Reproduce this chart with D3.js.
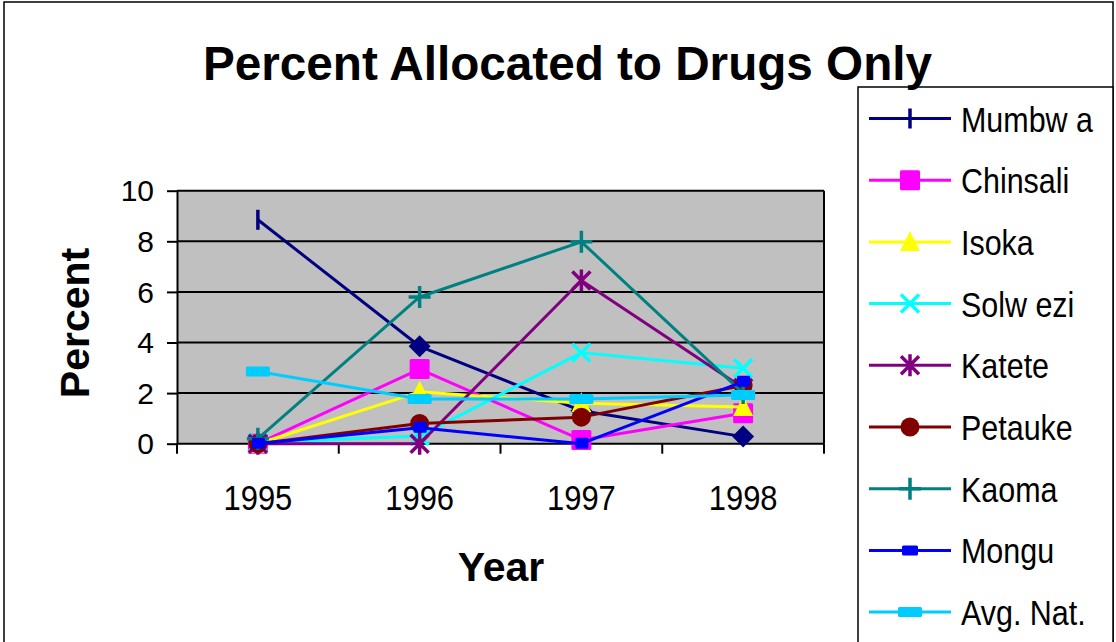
<!DOCTYPE html>
<html>
<head>
<meta charset="utf-8">
<script src="https://cdn.jsdelivr.net/npm/d3@7"></script>
<style>
  html, body { margin: 0; padding: 0; background: #ffffff; }
  svg { display: block; }
  text { font-family: "Liberation Sans", Arial, sans-serif; }
</style>
</head>
<body>
<svg id="chart" width="1116" height="642"></svg>
<script>
// ---- data ----
const years = ["1995", "1996", "1997", "1998"];
const yTicks = [0, 2, 4, 6, 8, 10];
const seriesNames = ["Mumbw a", "Chinsali", "Isoka", "Solw ezi", "Katete", "Petauke", "Kaoma", "Mongu", "Avg. Nat."];
const mumbwa   = [8.85, 3.85, 1.3, 0.28];
const chinsali = [0.0, 2.95, 0.15, 1.2];
const isoka    = [0.0, 2.05, 1.6, 1.45];
const solwezi  = [0.05, 0.3, 3.6, 2.98];
const katete   = [0.0, 0.0, 6.45, 2.2];
const petauke  = [0.0, 0.8, 1.05, 2.3];
const kaoma    = [0.2, 5.8, 7.98, 2.0];
const mongu    = [0.0, 0.63, 0.0, 2.45];
const avgNat   = [2.85, 1.77, 1.77, 1.92];
const seriesValues = [mumbwa, chinsali, isoka, solwezi, katete, petauke, kaoma, mongu, avgNat];

// ---- styles ----
const colors  = ["#000080", "#FF00FF", "#FFFF00", "#00FFFF", "#800080", "#800000", "#008080", "#0000FF", "#00CCFF"];
const markers = ["bar", "square", "triangle", "x", "asterisk", "circle", "plus", "smallsquare", "rect"];
const mumbwaPointMarkers = ["bar", "diamond", "diamond", "diamond"];

const svg = d3.select("#chart");

// outer frame
svg.append("rect").attr("x", 4).attr("y", 2).attr("width", 1109).attr("height", 700)
  .attr("fill", "#fff").attr("stroke", "#000").attr("stroke-width", 1.5);

// plot area
const pLeft = 177, pRight = 824, pTop = 190.7, pBottom = 443.7;
const x = d3.scaleBand().domain(years).range([pLeft, pRight]).paddingInner(0).paddingOuter(0);
const xc = d => x(d) + x.bandwidth() / 2;
const y = d3.scaleLinear().domain([0, 10]).range([pBottom, pTop]);

svg.append("rect").attr("x", pLeft).attr("y", pTop).attr("width", pRight - pLeft).attr("height", pBottom - pTop)
  .attr("fill", "#C0C0C0");

// gridlines
svg.append("g").selectAll("line").data(yTicks.filter(t => t > 0)).join("line")
  .attr("x1", pLeft).attr("x2", pRight).attr("y1", d => y(d)).attr("y2", d => y(d))
  .attr("stroke", "#000").attr("stroke-width", 2);
svg.append("line").attr("x1", pRight).attr("x2", pRight).attr("y1", pTop).attr("y2", pBottom)
  .attr("stroke", "#000").attr("stroke-width", 2);

// y axis
const yAxis = d3.axisLeft(y).tickValues(yTicks).tickSize(10).tickPadding(13).tickSizeOuter(0);
const gy = svg.append("g").attr("transform", `translate(${pLeft},0)`).call(yAxis);
gy.select(".domain").attr("stroke", "#000").attr("stroke-width", 2);
gy.selectAll(".tick line").attr("stroke", "#000").attr("stroke-width", 2);
gy.selectAll(".tick text").attr("fill", "#000").style("font-size", "30px")
  .style("font-family", "'Liberation Sans', Arial, sans-serif").attr("dy", "0.34em");

// x axis
const gx = svg.append("g").attr("transform", `translate(0,${pBottom})`);
gx.append("line").attr("x1", pLeft).attr("x2", pRight).attr("y1", 0).attr("y2", 0)
  .attr("stroke", "#000").attr("stroke-width", 2);
const bounds = years.map(d => x(d)).concat([pRight]);
gx.selectAll("line.b").data(bounds).join("line").attr("class", "b")
  .attr("x1", d => d).attr("x2", d => d).attr("y1", 0).attr("y2", 10)
  .attr("stroke", "#000").attr("stroke-width", 2);
gx.selectAll("text").data(years).join("text")
  .attr("transform", d => `translate(${xc(d)},66) scale(0.86,1)`)
  .attr("text-anchor", "middle").style("font-size", "36px").attr("fill", "#000").text(d => d);

function drawMarker(g, type, color, cx, cy, legend) {
  const s = 10;
  switch (type) {
    case "bar":
      g.append("line").attr("x1", cx).attr("x2", cx).attr("y1", cy - s).attr("y2", cy + s)
        .attr("stroke", color).attr("stroke-width", 3.5);
      break;
    case "diamond":
      g.append("path").attr("d", `M${cx},${cy - 11}L${cx + 11},${cy}L${cx},${cy + 11}L${cx - 11},${cy}Z`)
        .attr("fill", color);
      break;
    case "square":
      g.append("rect").attr("x", cx - 10).attr("y", cy - 10).attr("width", 20).attr("height", 20)
        .attr("rx", 1.5).attr("fill", color);
      break;
    case "triangle":
      g.append("path").attr("d", `M${cx},${cy - 11}L${cx + 10},${cy + 9}L${cx - 10},${cy + 9}Z`)
        .attr("fill", color);
      break;
    case "x":
      g.append("path").attr("d", `M${cx - 9},${cy - 9}L${cx + 9},${cy + 9}M${cx + 9},${cy - 9}L${cx - 9},${cy + 9}`)
        .attr("stroke", color).attr("stroke-width", 3.5);
      break;
    case "asterisk":
      g.append("path").attr("d", `M${cx - 9},${cy - 9}L${cx + 9},${cy + 9}M${cx + 9},${cy - 9}L${cx - 9},${cy + 9}M${cx},${cy - 11}L${cx},${cy + 11}`)
        .attr("stroke", color).attr("stroke-width", 3.5);
      break;
    case "circle":
      g.append("circle").attr("cx", cx).attr("cy", cy).attr("r", 9.5).attr("fill", color);
      break;
    case "plus":
      g.append("path").attr("d", `M${cx},${cy - 11}L${cx},${cy + 11}M${cx - 11},${cy}L${cx + 11},${cy}`)
        .attr("stroke", color).attr("stroke-width", 3.5);
      break;
    case "smallsquare":
      if (legend) g.append("rect").attr("x", cx - 8).attr("y", cy - 5).attr("width", 16).attr("height", 10).attr("rx", 1.5).attr("fill", color);
      else g.append("rect").attr("x", cx - 6).attr("y", cy - 6).attr("width", 13).attr("height", 11).attr("rx", 1).attr("fill", color);
      break;
    case "rect":
      g.append("rect").attr("x", cx - 12).attr("y", cy - 5).attr("width", 24).attr("height", 10)
        .attr("rx", 1.5).attr("fill", color);
      break;
  }
}

const line = d3.line().x(d => xc(d.year)).y(d => y(d.value));
seriesValues.forEach((vals, i) => {
  const g = svg.append("g");
  const pts = years.map((yr, j) => ({ year: yr, value: vals[j] }));
  g.append("path").datum(pts).attr("d", line).attr("fill", "none")
    .attr("stroke", colors[i]).attr("stroke-width", 3).attr("stroke-linejoin", "round");
  pts.forEach((p, j) => {
    const type = i === 0 ? mumbwaPointMarkers[j] : markers[i];
    drawMarker(g, type, colors[i], xc(p.year), y(p.value), false);
  });
});

svg.append("text").attr("transform", "translate(89,323) rotate(-90)")
  .attr("text-anchor", "middle").style("font-size", "41px").style("font-weight", "bold")
  .attr("fill", "#000").text("Percent");
svg.append("text").attr("x", 501).attr("y", 581)
  .attr("text-anchor", "middle").style("font-size", "41px").style("font-weight", "bold")
  .attr("fill", "#000").text("Year");

const lg = svg.append("g");
lg.append("rect").attr("x", 858).attr("y", 87).attr("width", 255).attr("height", 620)
  .attr("fill", "#fff").attr("stroke", "#000").attr("stroke-width", 1.5);
seriesNames.forEach((name, i) => {
  const cy = 118.5 + i * 61.7;
  lg.append("line").attr("x1", 869).attr("x2", 951).attr("y1", cy).attr("y2", cy)
    .attr("stroke", colors[i]).attr("stroke-width", 3);
  drawMarker(lg, markers[i], colors[i], 910, cy, true);
  lg.append("text").attr("transform", `translate(961,${cy + 13}) scale(0.87,1)`)
    .style("font-size", "35px").attr("fill", "#000").text(name);
});

svg.append("text").attr("x", 203).attr("y", 80)
  .attr("textLength", 729).attr("lengthAdjust", "spacingAndGlyphs")
  .style("font-size", "48px").style("font-weight", "bold").attr("fill", "#000")
  .text("Percent Allocated to Drugs Only");
</script>
</body>
</html>
